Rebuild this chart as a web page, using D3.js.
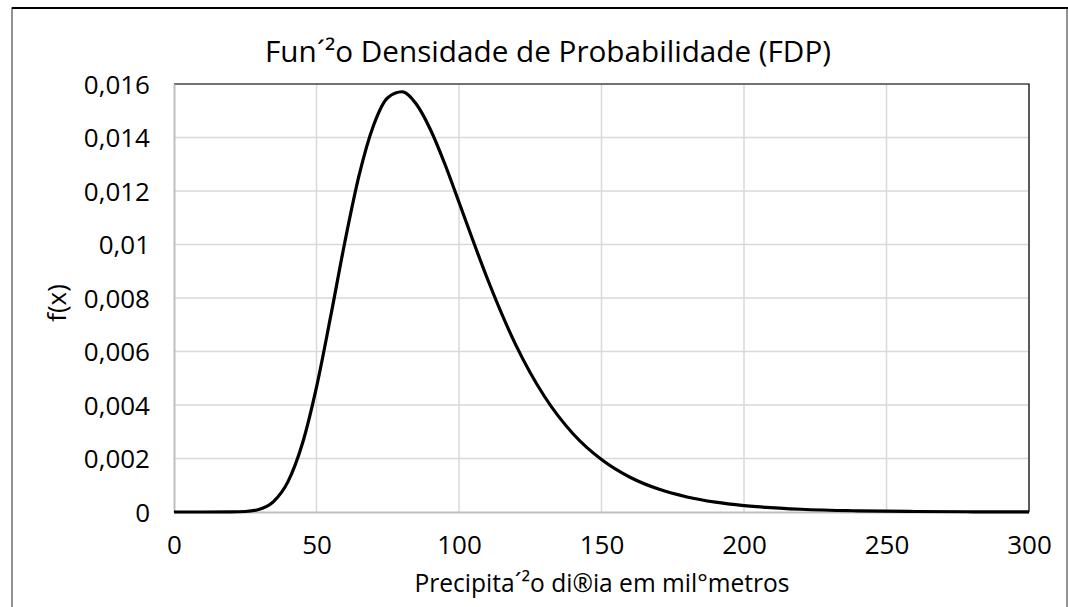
<!DOCTYPE html>
<html>
<head>
<meta charset="utf-8">
<script src="https://cdn.jsdelivr.net/npm/d3@7"></script>
<style>
  html, body { margin: 0; padding: 0; background: #fff; }
  svg { display: block; font-family: "Open Sans", "Noto Sans", sans-serif; }
</style>
</head>
<body>
<div class="chart-container"></div>
<script>
// values
var precip = [0, 10, 20, 25, 30, 35, 40, 45, 50, 55, 60, 65, 70, 75, 80, 85, 90, 95,
    100, 105, 110, 120, 130, 140, 150, 160, 170, 180, 190, 200, 220, 240, 260, 280, 300];
var density = [0, 0, 0.000002, 0.000019, 0.000103, 0.000399, 0.001135, 0.002539, 0.00467,
    0.00733, 0.01012, 0.01261, 0.01445, 0.01549, 0.01571, 0.01525, 0.01429, 0.01302,
    0.01158, 0.01012, 0.00871, 0.00623, 0.004318, 0.002927, 0.001961, 0.001299, 0.000857,
    0.000563, 0.000369, 0.000241, 0.000103, 0.000044, 0.000019, 0.000008, 0.000003];
var xTicks = [0, 50, 100, 150, 200, 250, 300];
var yTicks = [0, 0.002, 0.004, 0.006, 0.008, 0.01, 0.012, 0.014, 0.016];

var titleText = 'Fun\u00b4\u00b2o Densidade de Probabilidade (FDP)';
var xLabelText = 'Precipita\u00b4\u00b2o di\u00aeia em mil\u00b0metros';
var yLabelText = 'f(x)';

(function() {
    'use strict';

    var W = 1068, H = 607;
    var plot = { left: 174, right: 1029, top: 84, bottom: 512 };

    var svg = d3.select('.chart-container')
        .append('svg')
        .attr('width', W)
        .attr('height', H);

    // outer chart frame
    svg.append('rect')
        .attr('x', 12).attr('y', 8)
        .attr('width', 1055).attr('height', H + 10)
        .attr('fill', '#fff')
        .attr('stroke', '#6f6f6f')
        .attr('stroke-width', 1.5);
    svg.append('line')
        .attr('x1', 12).attr('x2', W)
        .attr('y1', 8).attr('y2', 8)
        .attr('stroke', '#000').attr('stroke-width', 2);

    var x = d3.scaleLinear().domain([0, 300]).range([plot.left, plot.right]);
    var y = d3.scaleLinear().domain([0, 0.016]).range([plot.bottom, plot.top]);

    // gridlines
    svg.append('g').selectAll('line').data(xTicks.slice(1)).enter()
        .append('line')
        .attr('x1', function(d) { return x(d); })
        .attr('x2', function(d) { return x(d); })
        .attr('y1', plot.top).attr('y2', plot.bottom)
        .attr('stroke', '#d9d9d9').attr('stroke-width', 1.5);
    svg.append('g').selectAll('line').data(yTicks.slice(1)).enter()
        .append('line')
        .attr('x1', plot.left).attr('x2', plot.right)
        .attr('y1', function(d) { return y(d); })
        .attr('y2', function(d) { return y(d); })
        .attr('stroke', '#d9d9d9').attr('stroke-width', 1.5);

    // plot area outline (top + right dark)
    svg.append('path')
        .attr('d', 'M' + plot.left + ',' + plot.top + 'H' + plot.right + 'V' + plot.bottom)
        .attr('fill', 'none')
        .attr('stroke', '#000').attr('stroke-width', 1.2);

    // axes
    var xAxis = d3.axisBottom(x).tickValues(xTicks).tickSize(0).tickPadding(24)
        .tickFormat(function(d) { return d; });
    var yAxis = d3.axisLeft(y).tickValues(yTicks).tickSize(0).tickPadding(24)
        .tickFormat(function(d) { return String(d).replace('.', ','); });

    var gx = svg.append('g')
        .attr('transform', 'translate(0,' + plot.bottom + ')')
        .call(xAxis);
    var gy = svg.append('g')
        .attr('transform', 'translate(' + plot.left + ',0)')
        .call(yAxis);

    [gx, gy].forEach(function(g) {
        g.select('.domain').attr('stroke', '#bfbfbf').attr('stroke-width', 2);
        g.selectAll('text')
            .attr('font-size', 26)
            .attr('font-family', '"Open Sans", sans-serif')
            .attr('fill', '#000');
    });
    gx.selectAll('text').attr('dy', '0.71em');
    gy.selectAll('text').attr('dy', '0.36em');

    // density curve
    var line = d3.line()
        .x(function(d) { return x(d[0]); })
        .y(function(d) { return y(d[1]); })
        .curve(d3.curveMonotoneX);

    svg.append('path')
        .datum(d3.zip(precip, density))
        .attr('d', line)
        .attr('fill', 'none')
        .attr('stroke', '#000')
        .attr('stroke-width', 3.2)
        .attr('stroke-linejoin', 'round');

    // title and axis labels
    svg.append('text')
        .attr('x', 548).attr('y', 62)
        .attr('text-anchor', 'middle')
        .attr('font-size', 29)
        .attr('textLength', 566)
        .attr('lengthAdjust', 'spacingAndGlyphs')
        .text(titleText);

    svg.append('text')
        .attr('x', 602).attr('y', 592)
        .attr('text-anchor', 'middle')
        .attr('font-size', 25)
        .attr('textLength', 375)
        .attr('lengthAdjust', 'spacingAndGlyphs')
        .text(xLabelText);

    svg.append('text')
        .attr('transform', 'translate(66,303) rotate(-90)')
        .attr('text-anchor', 'middle')
        .attr('font-size', 26)
        .text(yLabelText);
})();
</script>
</body>
</html>
